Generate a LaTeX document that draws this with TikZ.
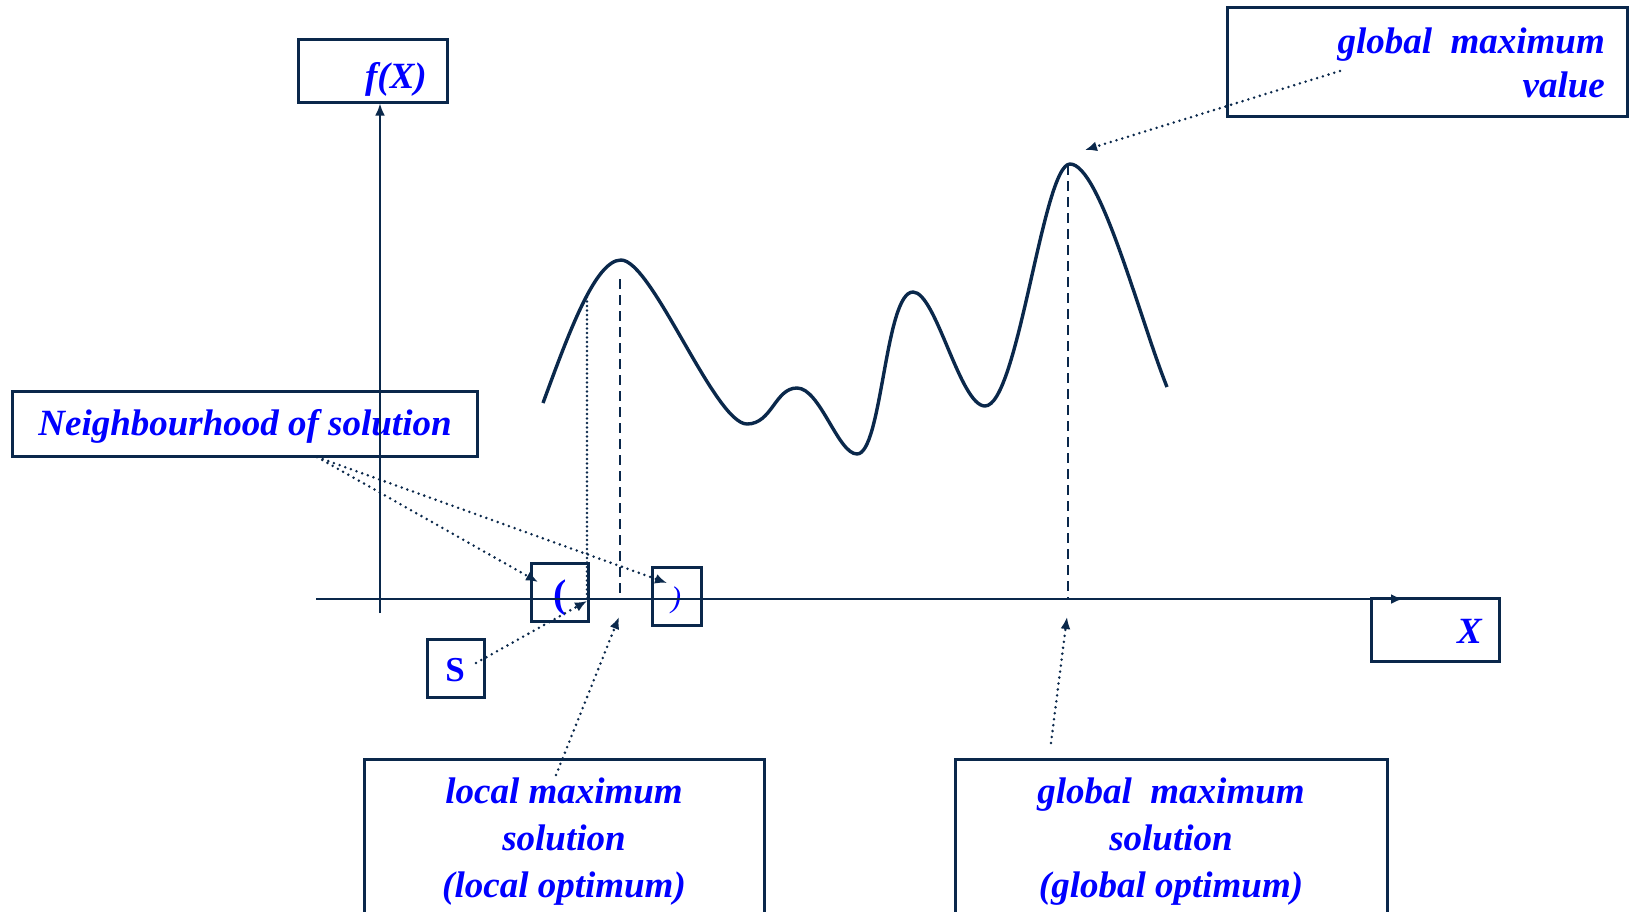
\documentclass[tikz,border=0pt]{standalone}
\usepackage{fontspec}
\setmainfont{Liberation Serif}
\usetikzlibrary{arrows.meta}
\definecolor{navy}{RGB}{10,40,75}
\definecolor{txtblue}{RGB}{0,0,255}
\begin{document}
\begin{tikzpicture}[x=1pt,y=-1pt,
  box/.style={draw=navy, line width=3pt, inner sep=0pt},
  lbl/.style={text=txtblue, font=\fontsize{37}{46}\selectfont\bfseries\itshape, inner sep=0pt},
  ptr/.style={draw=navy, line width=2.8pt, dash pattern=on 0pt off 6pt, line cap=round, -{Latex[length=12pt,width=10pt]}},
  axisln/.style={draw=navy, line width=2.8pt},
  axisarr/.style={axisln, -{Latex[length=12pt,width=10pt]}},
  curveln/.style={draw=navy, line width=3.4pt},
  dashln/.style={draw=navy, line width=2.8pt, dash pattern=on 10pt off 6pt},
  dotln/.style={draw=navy, line width=2.6pt, dash pattern=on 0pt off 4.5pt, line cap=round}
]
\useasboundingbox (0,0) rectangle (1629,911);
\fill[white] (0,0) rectangle (1629,911);

% boxes
\node[box, minimum width=149pt, minimum height=63pt] (fx) at (372.5,70.5) {};
\node[lbl, anchor=base east] (fxt) at (427,88) {f(X)};

\node[box, minimum width=400pt, minimum height=109pt] (gmv) at (1427,61.5) {};
\node[lbl, anchor=base east] (gmvt1) at (1605,53) {global~ maximum};
\node[lbl, anchor=base east] (gmvt2) at (1605,97) {value};

\node[box, minimum width=465pt, minimum height=65pt] (nb) at (244.5,423.5) {};
\node[lbl, anchor=base] (nbt) at (245,435) {Neighbourhood of solution};

\node[box, minimum width=128pt, minimum height=63pt] (xb) at (1435,629.5) {};
\node[lbl, anchor=base east] (xbt) at (1482,643) {X};

\node[box, minimum width=57pt, minimum height=58pt] (lp) at (559.5,592) {};
\node[lbl, font=\fontsize{40}{46}\selectfont\bfseries, anchor=center] (lpt) at (560,598) {(};

\node[box, minimum width=49pt, minimum height=58pt] (rp) at (676.5,596) {};
\node[lbl, font=\fontsize{30}{36}\selectfont\itshape, anchor=center] (rpt) at (676,600) {)};

\node[box, minimum width=57pt, minimum height=58pt] (sb) at (455.5,668) {};
\node[lbl, font=\fontsize{35}{42}\selectfont\bfseries, anchor=center] (sbt) at (455,670) {S};

\node[box, minimum width=400pt, minimum height=200pt] (lb) at (564,859) {};
\node[lbl, anchor=base] (lbt1) at (564,803) {local maximum};
\node[lbl, anchor=base] (lbt2) at (564,850) {solution};
\node[lbl, anchor=base] (lbt3) at (564,897) {(local optimum)};

\node[box, minimum width=432pt, minimum height=200pt] (gb) at (1171,859) {};
\node[lbl, anchor=base] (gbt1) at (1171,803) {global~ maximum};
\node[lbl, anchor=base] (gbt2) at (1171,850) {solution};
\node[lbl, anchor=base] (gbt3) at (1171,897) {(global optimum)};

% axes
\coordinate (yb) at (380,613);
\coordinate (xl) at (316,599);
\coordinate (xr) at (1403,599);
\draw[axisarr] (yb) -- (yb |- fx.south);
\draw[axisarr] (xl) -- (xr);

% curve
\draw[curveln] (543,403) .. controls (568,335) and (595,260) .. (621,260)
 .. controls (652,260) and (715,424) .. (747,424)
 .. controls (772,424) and (775,388) .. (797,388)
 .. controls (820,388) and (838,454) .. (857,454)
 .. controls (882,454) and (885,292) .. (913,292)
 .. controls (936,292) and (960,406) .. (985,406)
 .. controls (1018,406) and (1043,164) .. (1070,164)
 .. controls (1100,164) and (1140,320) .. (1167,387);

% vertical guide lines
\coordinate (lpk) at (620,279);
\coordinate (gpk) at (1068,165);
\coordinate (nbl) at (587,297);
\draw[dashln] (lpk) -- (lpk |- xl);
\draw[dashln] (gpk) -- (gpk |- xl);
\draw[dotln] (nbl) -- (nbl |- xl);

% pointers
\coordinate (nbs) at (317,457);
\coordinate (lptip) at (538,582);
\coordinate (rptip) at (667,583);
\draw[ptr] (nbs) -- (lptip);
\draw[ptr] (nbs) -- (rptip);

\coordinate (ss) at (476,663);
\coordinate (stip) at (587,601);
\draw[ptr] (ss) -- (stip);

\coordinate (ls) at (556,775);
\coordinate (ltip) at (619,617);
\draw[ptr] (ls) -- (ltip);

\coordinate (gs) at (1051,743);
\coordinate (gtip) at (1067,617);
\draw[ptr] (gs) -- (gtip);

\coordinate (vs) at (1340,71);
\coordinate (vtip) at (1085,150);
\draw[ptr] (vs) -- (vtip);
\end{tikzpicture}
\end{document}
